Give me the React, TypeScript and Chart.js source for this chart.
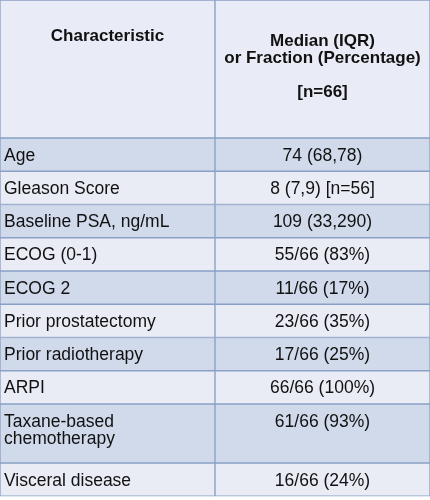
import React, { useEffect, useRef } from 'react';
import { Chart, registerables } from 'chart.js';

Chart.register(...registerables);

// ---- data ----
const columnHeaders: string[][] = [
  ['Characteristic'],
  ['Median (IQR)', 'or Fraction (Percentage)', '', '[n=66]'],
];
const characteristics: string[][] = [
  ['Age'],
  ['Gleason Score'],
  ['Baseline PSA, ng/mL'],
  ['ECOG (0-1)'],
  ['ECOG 2'],
  ['Prior prostatectomy'],
  ['Prior radiotherapy'],
  ['ARPI'],
  ['Taxane-based', 'chemotherapy'],
  ['Visceral disease'],
];
const summaryValues: string[] = [
  '74 (68,78)',
  '8 (7,9) [n=56]',
  '109 (33,290)',
  '55/66 (83%)',
  '11/66 (17%)',
  '23/66 (35%)',
  '17/66 (25%)',
  '66/66 (100%)',
  '61/66 (93%)',
  '16/66 (24%)',
];

// ---- layout / style ----
const W = 430;
const H = 500;
const HEADER_H = 138;
const ROW_H = 33.25;
const EXTRA_LINE_H = 25.75;
const LINE_H = 17;
const FONT_SIZE = 17.5;
const HEADER_FONT_SIZE = 17;
const FONT = "Arial, 'Liberation Sans', Helvetica, sans-serif";
const HEADER_BG = '#e9ecf6';
const DARK_BG = '#d0daeb';
const LIGHT_BG = '#e9ebf5';
const LINE_COLOR = '#8aa0c6';
const TEXT_COLOR = '#111111';

function buildBounds(): [number, number][] {
  const out: [number, number][] = [[0, HEADER_H]];
  let y = HEADER_H;
  characteristics.forEach((lines) => {
    const h = ROW_H + (lines.length - 1) * EXTRA_LINE_H;
    out.push([y, y + h]);
    y += h;
  });
  return out;
}

const tableTextPlugin = {
  id: 'tableText',
  afterDatasetsDraw(chart: any) {
    const ctx = chart.ctx as CanvasRenderingContext2D;
    ctx.save();
    ctx.fillStyle = TEXT_COLOR;
    ctx.textBaseline = 'alphabetic';
    const metaCount = chart.data.datasets.length;
    for (let r = 0; r < metaCount; r++) {
      const meta = chart.getDatasetMeta(r);
      const left = meta.data[0].getProps(['x', 'y', 'base', 'width'], true);
      const right = meta.data[1].getProps(['x', 'y', 'base', 'width'], true);
      const top = Math.min(left.y, left.base);
      if (r === 0) {
        ctx.font = `bold ${HEADER_FONT_SIZE}px ${FONT}`;
        ctx.textAlign = 'center';
        ctx.fillText(columnHeaders[0][0], left.x, top + 41);
        columnHeaders[1].forEach((line, k) => {
          ctx.fillText(line, right.x, top + 45.5 + k * 17.2);
        });
      } else {
        ctx.font = `${FONT_SIZE}px ${FONT}`;
        ctx.textAlign = 'left';
        const lx = left.x - left.width / 2 + 4;
        characteristics[r - 1].forEach((line, k) => {
          ctx.fillText(line, lx, top + 22.5 + k * LINE_H);
        });
        ctx.textAlign = 'center';
        ctx.fillText(summaryValues[r - 1], right.x, top + 22.5);
      }
    }
    ctx.restore();
  },
};

export default function App() {
  const ref = useRef<HTMLCanvasElement | null>(null);

  useEffect(() => {
    document.body.style.margin = '0';
    const canvas = ref.current;
    if (!canvas) return;
    const bounds = buildBounds();
    const datasets = bounds.map((b, i) => ({
      label: i === 0 ? 'header' : characteristics[i - 1].join(' '),
      data: [b, b] as any,
      backgroundColor: i === 0 ? HEADER_BG : i % 2 === 1 ? DARK_BG : LIGHT_BG,
      borderColor: LINE_COLOR,
      borderWidth: 1,
      borderSkipped: false as any,
      barPercentage: 1,
      categoryPercentage: 1,
      grouped: false,
    }));
    const chart = new Chart(canvas, {
      type: 'bar',
      data: {
        labels: ['Characteristic', 'Median (IQR) or Fraction (Percentage)'],
        datasets,
      },
      options: {
        responsive: false,
        animation: false,
        events: [],
        layout: { padding: 0 },
        plugins: {
          legend: { display: false },
          tooltip: { enabled: false },
          title: { display: false },
        },
        scales: {
          x: { type: 'category', display: false, offset: true },
          y: { type: 'linear', display: false, min: 0, max: H, reverse: true },
        },
      },
      plugins: [tableTextPlugin],
    });
    return () => chart.destroy();
  }, []);

  return (
    <div style={{ width: W, height: H, background: '#ffffff' }}>
      <canvas ref={ref} width={W} height={H} style={{ display: 'block', width: W, height: H }} />
    </div>
  );
}
